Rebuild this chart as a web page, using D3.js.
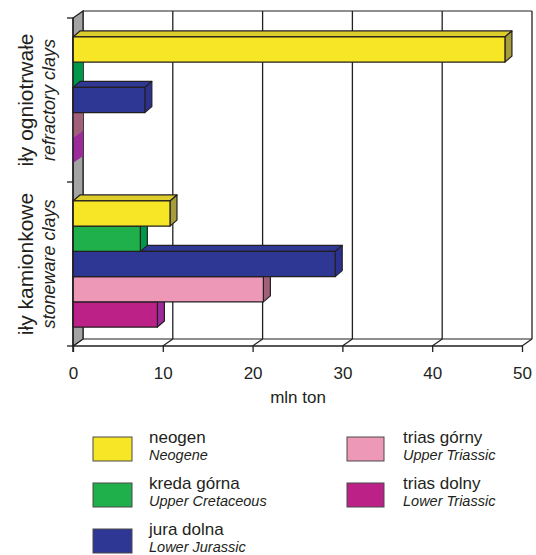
<!DOCTYPE html>
<html>
<head>
<meta charset="utf-8">
<script src="https://cdn.jsdelivr.net/npm/d3@7/dist/d3.min.js"></script>
<style>
  html, body { margin: 0; padding: 0; background: #fff; }
  svg { display: block; font-family: "Liberation Sans", Arial, sans-serif; }
</style>
</head>
<body>
<svg id="chart" width="536" height="555"></svg>
<script>
// Clay resources by geological age (mln ton)
const groups = ["iły ogniotrwałe", "iły kamionkowe"];
const groupsEn = ["refractory clays", "stoneware clays"];
const series = ["neogen", "kreda górna", "jura dolna", "trias górny", "trias dolny"];
const seriesEn = ["Neogene", "Upper Cretaceous", "Lower Jurassic", "Upper Triassic", "Lower Triassic"];
const refractoryValues = [48.1, 0, 8.0, 0, 0];
const stonewareValues = [10.8, 7.5, 29.2, 21.2, 9.4];
const xTicks = [0, 10, 20, 30, 40, 50];
const xTitle = "mln ton";

// face colours: front, top, side
const frontColors = ["#f6e625", "#1fb04b", "#2e3794", "#ec98b6", "#bc2187"];
const topColors   = ["#dccd2b", "#18a046", "#303896", "#d888a4", "#a8207c"];
const sideColors  = ["#a69c3c", "#00994c", "#2a3190", "#a0607a", "#9c2a9a"];

const valuesByGroup = [refractoryValues, stonewareValues];

const svg = d3.select("#chart");
const ink = "#231f20";

// scales
const x = d3.scaleLinear().domain([0, 50]).range([73, 522]);
const y0 = d3.scaleBand().domain(groups).range([18, 346]);
const y1 = d3.scaleBand().domain(series).range([0, y0.bandwidth()]).paddingOuter(0.75);

// depth of the plot box and of the bars
const wdx = 10, wdy = -7;
const bdx = 7, bdy = -6;
const yTop = y0.range()[0], yBot = y0.range()[1];

// back wall gridlines
const back = svg.append("g");
back.append("line").attr("x1", x(0) + wdx).attr("x2", x(50) + wdx)
  .attr("y1", yTop + wdy).attr("y2", yTop + wdy)
  .attr("stroke", ink).attr("stroke-width", 1.2);
back.selectAll("line.grid").data(xTicks).join("line").attr("class", "grid")
  .attr("x1", d => x(d) + wdx).attr("x2", d => x(d) + wdx)
  .attr("y1", yTop + wdy).attr("y2", yBot + wdy)
  .attr("stroke", ink).attr("stroke-width", 1.3);

// floor
const floor = svg.append("g");
floor.append("line").attr("x1", x(0) + wdx).attr("x2", x(50) + wdx)
  .attr("y1", yBot + wdy).attr("y2", yBot + wdy)
  .attr("stroke", ink).attr("stroke-width", 1.2);
floor.selectAll("line.diag").data(xTicks).join("line").attr("class", "diag")
  .attr("x1", d => x(d)).attr("x2", d => x(d) + wdx)
  .attr("y1", yBot).attr("y2", yBot + wdy)
  .attr("stroke", ink).attr("stroke-width", 1.2);

// side wall
svg.append("polygon")
  .attr("points", [[x(0), yTop], [x(0) + wdx, yTop + wdy], [x(0) + wdx, yBot + wdy], [x(0), yBot]].join(" "))
  .attr("fill", "#a3a3a3").attr("stroke", ink).attr("stroke-width", 1.2);

// bars
const barsG = svg.append("g");
groups.forEach((g, gi) => {
  const vals = valuesByGroup[gi];
  const items = series.map((s, i) => ({ s, i, v: vals[i] }));
  // zero-value bars show only their end face against the wall
  items.filter(d => d.v === 0).forEach(d => {
    const yy = y0(g) + y1(d.s), h = y1.bandwidth(), x0 = x(0);
    barsG.append("polygon")
      .attr("points", [[x0, yy], [x0 + wdx, yy + wdy], [x0 + wdx, yy + h + wdy], [x0, yy + h]].join(" "))
      .attr("fill", sideColors[d.i]);
  });
  // non-zero bars, lowest first so upper bars overlap the faces below
  items.filter(d => d.v > 0).reverse().forEach(d => {
    const yy = y0(g) + y1(d.s), h = y1.bandwidth(), x0 = x(0), xv = x(d.v);
    const bar = barsG.append("g")
      .attr("stroke", ink).attr("stroke-width", 1.2).attr("stroke-linejoin", "round");
    bar.append("polygon")
      .attr("points", [[x0, yy], [x0 + bdx, yy + bdy], [xv + bdx, yy + bdy], [xv, yy]].join(" "))
      .attr("fill", topColors[d.i]);
    bar.append("polygon")
      .attr("points", [[xv, yy], [xv + bdx, yy + bdy], [xv + bdx, yy + h + bdy], [xv, yy + h]].join(" "))
      .attr("fill", sideColors[d.i]);
    bar.append("rect")
      .attr("x", x0).attr("y", yy).attr("width", xv - x0).attr("height", h)
      .attr("fill", frontColors[d.i]);
  });
});

// front edges of the axes
svg.append("line").attr("x1", x(0)).attr("x2", x(0)).attr("y1", yTop).attr("y2", yBot + 6)
  .attr("stroke", ink).attr("stroke-width", 1.5);
svg.append("line").attr("x1", x(0)).attr("x2", x(50)).attr("y1", yBot).attr("y2", yBot)
  .attr("stroke", ink).attr("stroke-width", 1.5);

// x axis
const xAxis = svg.append("g").attr("transform", `translate(0,${yBot})`)
  .call(d3.axisBottom(x).tickValues(xTicks).tickSize(6).tickPadding(15).tickFormat(d3.format("d")));
xAxis.select(".domain").remove();
xAxis.selectAll(".tick line").attr("stroke", ink).attr("stroke-width", 1.3);
xAxis.selectAll(".tick text").attr("fill", ink).style("font-size", "17px")
  .style("font-family", "'Liberation Sans', Arial, sans-serif");

svg.append("text").attr("x", 298).attr("y", 403).attr("text-anchor", "middle")
  .attr("fill", ink).style("font-size", "17px").text(xTitle);

// y axis ticks at group boundaries
const yTickPos = [yTop, yTop + y0.step(), yBot];
svg.selectAll("line.ytick").data(yTickPos).join("line").attr("class", "ytick")
  .attr("x1", x(0) - 6).attr("x2", x(0)).attr("y1", d => d).attr("y2", d => d)
  .attr("stroke", ink).attr("stroke-width", 1.3);

// category labels
groups.forEach((g, gi) => {
  const cy = y0(g) + y0.bandwidth() / 2;
  svg.append("text").attr("transform", `translate(33,${cy}) rotate(-90)`)
    .attr("text-anchor", "middle").attr("fill", ink).style("font-size", "21px").text(g);
  svg.append("text").attr("transform", `translate(55,${cy}) rotate(-90)`)
    .attr("text-anchor", "middle").attr("fill", ink).style("font-size", "18px")
    .style("font-style", "italic").text(groupsEn[gi]);
});

// legend
const legendCols = [93, 347];
const legend = svg.append("g");
series.forEach((s, i) => {
  const col = i < 3 ? 0 : 1, row = i < 3 ? i : i - 3;
  const lx = legendCols[col], ly = 437 + row * 46;
  legend.append("rect").attr("x", lx).attr("y", ly).attr("width", col ? 37 : 39).attr("height", 24)
    .attr("fill", frontColors[i]).attr("stroke", "#4a4a4a").attr("stroke-width", 1);
  legend.append("text").attr("x", lx + 56).attr("y", ly + 6).attr("fill", ink)
    .style("font-size", "17px").text(s);
  legend.append("text").attr("x", lx + 56).attr("y", ly + 23).attr("fill", ink)
    .style("font-size", "14.5px").style("font-style", "italic").text(seriesEn[i]);
});
</script>
</body>
</html>
